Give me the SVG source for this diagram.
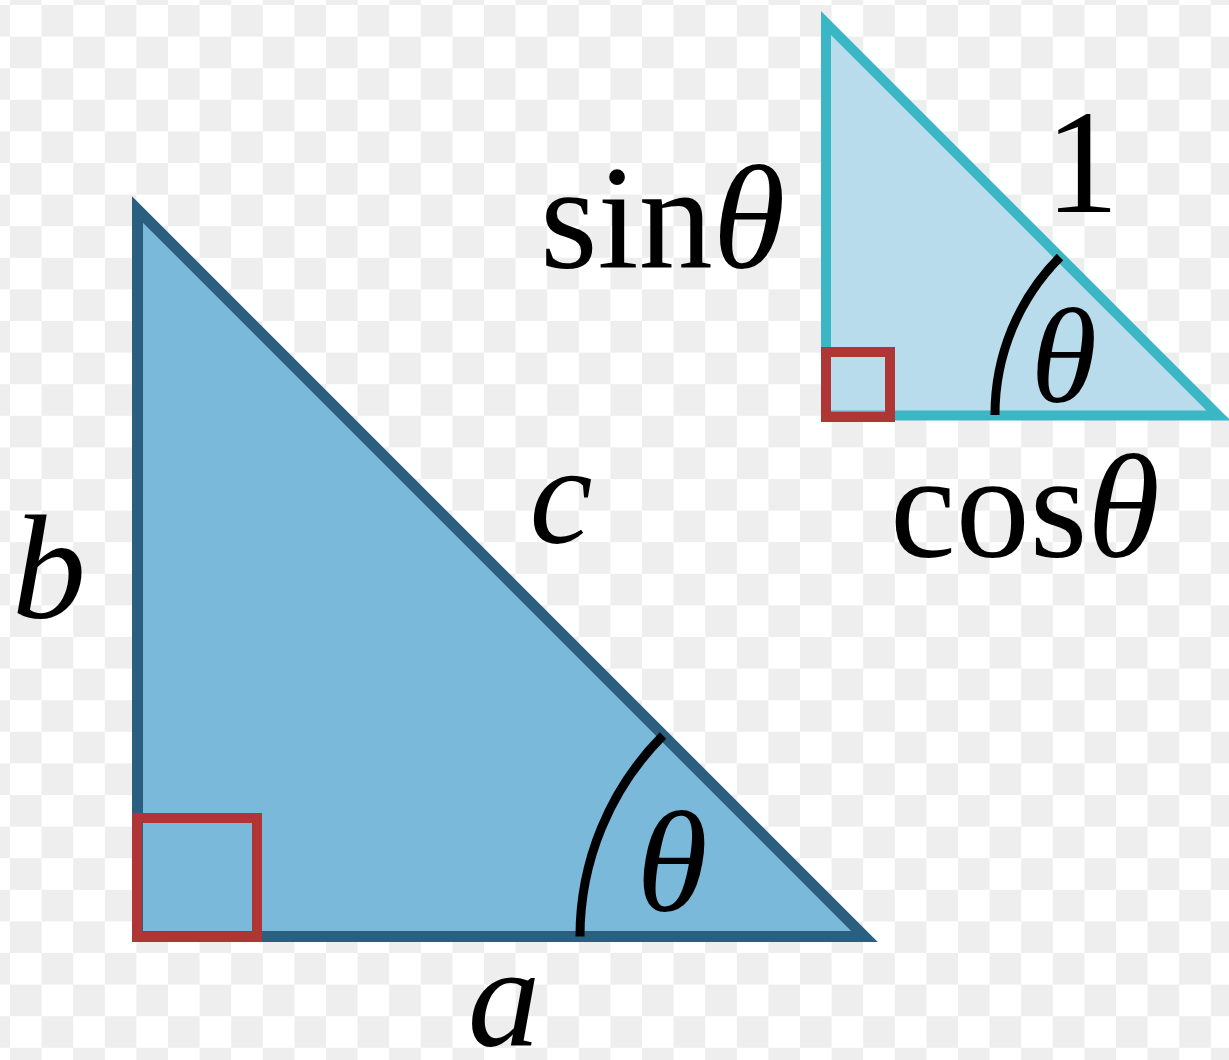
<svg xmlns="http://www.w3.org/2000/svg" width="1229" height="1060" viewBox="0 0 1229 1060">
<style>
.lbl{font-family:"Liberation Serif","Times New Roman",serif;fill:#000}
.it{font-style:italic}
.big{fill:#7ab9da;stroke:#2b5f7f;stroke-width:11;stroke-linejoin:miter;stroke-miterlimit:10}
.small{fill:#b9dced;stroke:#3bb6c5;stroke-width:10;stroke-linejoin:miter;stroke-miterlimit:10}
.right{fill:none;stroke:#b03535;stroke-width:10}
.arc{fill:none;stroke:#000;stroke-width:9}
</style>
<defs>
<pattern id="checker" x="10" y="5" width="63.2" height="63.2" patternUnits="userSpaceOnUse">
<rect width="63.2" height="63.2" fill="#ffffff"/>
<rect x="31.6" y="0" width="31.6" height="31.6" fill="#eeeeee"/>
<rect x="0" y="31.6" width="31.6" height="31.6" fill="#eeeeee"/>
</pattern>
</defs>
<rect id="background" width="1229" height="1060" fill="url(#checker)"/>
<g id="big-triangle">
<polygon class="big" points="137.5,209.5 137.5,936.5 864.5,936.5"/>
<rect class="right" x="137" y="818" width="120" height="119"/>
<path class="arc" d="M580,936.5 A284.5,284.5 0 0 1 663,735.5"/>
<text class="lbl it" x="672" y="911" font-size="145" text-anchor="middle">θ</text>
</g>
<g id="small-triangle">
<polygon class="small" points="826,23 826,415.5 1218.5,415.5"/>
<rect class="right" x="826" y="352" width="64" height="65"/>
<path class="arc" d="M995,415 A223,223 0 0 1 1060,257"/>
<text class="lbl it" x="1064" y="402" font-size="135" text-anchor="middle">θ</text>
</g>
<g id="labels">
<text class="lbl it" x="49" y="618" font-size="148" text-anchor="middle">b</text>
<text class="lbl it" x="561" y="543" font-size="142" text-anchor="middle">c</text>
<text class="lbl it" x="504" y="1046" font-size="145" text-anchor="middle">a</text>
<text class="lbl" x="1082" y="212" font-size="148" text-anchor="middle">1</text>
<text class="lbl" x="540" y="268" font-size="148">sin<tspan class="it">θ</tspan></text>
<text class="lbl" x="890" y="557" font-size="148">cos<tspan class="it">θ</tspan></text>
</g>
</svg>
